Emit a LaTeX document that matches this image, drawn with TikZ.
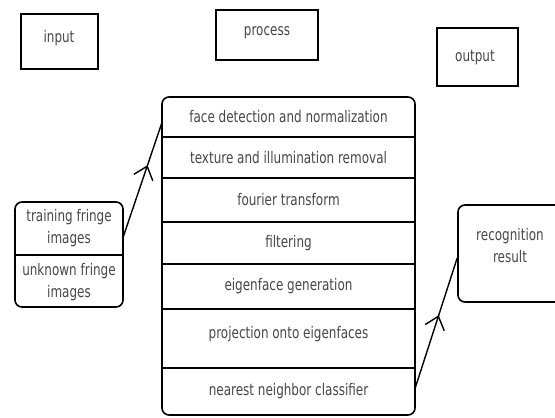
\documentclass[tikz,border=0pt]{standalone}
\usepackage{fontspec}
\setmainfont{DejaVu Sans}[FakeStretch=0.75]
\usetikzlibrary{arrows.meta,decorations.markings}
\begin{document}
\begin{tikzpicture}[x=1pt,y=-1pt,
  txt/.style={text=black!72, font=\fontsize{16}{22}\selectfont, align=center, inner sep=0pt},
  box/.style={draw, line width=1.6pt, txt},
  rowbox/.style={txt, minimum width=253pt},
  conn/.style={line width=1.4pt},
  midarrow/.style={conn, postaction={decorate}, decoration={markings,
     mark=at position #1 with {\arrow[line width=1.4pt]{Straight Barb[length=12pt,width=20pt]}}}}
]
\clip (0,0) rectangle (555,418);
\fill[white] (0,0) rectangle (555,418);
% headers
\node[box, minimum width=77pt, minimum height=55pt] (input) at (59.5,41.5) {};
\node[txt] at (59,38) {input};
\node[box, minimum width=102pt, minimum height=50pt] (process) at (267,35) {};
\node[txt] at (267,33) {process};
\node[box, minimum width=81pt, minimum height=58pt] (output) at (477.5,57) {};
\node[txt] at (475,58) {output};
% process stack
\draw[line width=1.6pt, rounded corners=7pt] (162,97) rectangle (415,415);
\node[rowbox, minimum height=40pt] (face) at (288.5,117) {face detection and normalization};
\node[rowbox, minimum height=41pt] (texture) at (288.5,157.5) {texture and illumination removal};
\node[rowbox, minimum height=44pt] (fourier) at (288.5,200) {fourier transform};
\node[rowbox, minimum height=42pt] (filter) at (288.5,243) {filtering};
\node[rowbox, minimum height=45pt] (eigen) at (288.5,286.5) {eigenface generation};
\node[rowbox, minimum height=59pt] (proj) at (288.5,334) {projection onto eigenfaces};
\node[rowbox, minimum height=47pt] (nearest) at (288.5,391.5) {nearest neighbor classifier};
\draw[line width=1.6pt] (proj.south west |- 0,368) -- (proj.south east |- 0,368);
\foreach \r in {face,texture,fourier,filter,eigen}
  \draw[line width=1.6pt] (\r.south west) -- (\r.south east);
% input stack
\draw[line width=1.6pt, rounded corners=7pt] (15,202) rectangle (123,307);
\node[txt, minimum width=108pt, minimum height=53pt] (train) at (69,228.5) {training fringe\\images};
\node[txt, minimum width=108pt, minimum height=52pt] (unknown) at (69,282) {unknown fringe\\images};
\draw[line width=1.6pt] (train.south west) -- (train.south east);
% output
\node[box, rounded corners=7pt, minimum width=104pt, minimum height=97pt] (recog) at (510,253.5) {};
\node[txt] at (510,246) {recognition\\result};
% arrows
\draw[midarrow=0.63] ([yshift=-8.5pt]train.east) -- ([yshift=-6pt]face.west);
\draw[midarrow=0.56] ([yshift=3.5pt]nearest.east) -- ([yshift=-4.5pt]recog.west);
\end{tikzpicture}
\end{document}
